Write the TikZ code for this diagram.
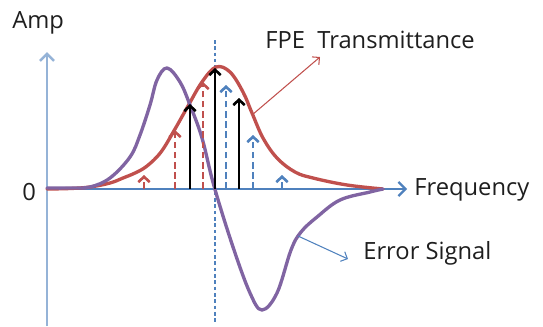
\documentclass[tikz,border=0pt]{standalone}
\usepackage{fontspec}
\setmainfont{Open Sans}
\usetikzlibrary{arrows.meta}
\definecolor{fpered}{HTML}{C0504D}
\definecolor{errpurple}{HTML}{8064A2}
\definecolor{axisblue}{HTML}{4F81BD}
\definecolor{axislight}{HTML}{95B3D7}
\definecolor{txtgray}{HTML}{1E1E1E}

\begin{document}
\begin{tikzpicture}[x=0.02cm, y=0.02cm,
  lbl/.style={font=\fontsize{13.5}{16}\selectfont, text=txtgray, inner sep=0pt},
  axisarr/.style={line width=1.3pt, -{Straight Barb[length=4pt,width=8pt]}},
  modearr/.style={line width=1.5pt, -{Straight Barb[length=3pt,width=6.5pt]}},
  dashmode/.style={modearr, dash pattern=on 3.8pt off 2pt},
  curve/.style={line width=1.9pt, line cap=round, line join=round}]
\useasboundingbox (0,0) rectangle (543,326);

% Axes
\coordinate (o) at (47,137);
\coordinate (ytip) at (47,274);
\coordinate (ybot) at (47,0);
\coordinate (xtip) at (407,137);
\draw[axisarr, axislight, line width=1.5pt] (ybot) -- (ytip);
\draw[axisarr, axisblue] (o) -- (xtip);

% Line centre
\coordinate (ctop) at (215,286);
\coordinate (cbot) at (215,3);
\draw[axisblue, line width=0.65pt, dash pattern=on 2pt off 1.6pt] (ctop) -- (cbot);

% Labels
\node[lbl, anchor=base west] (amp) at (12,298) {Amp};
\node[lbl, anchor=base west] (zero) at (22,126) {0};
\node[lbl, anchor=base west] (freq) at (414,131) {Frequency};
\node[lbl, anchor=base west] (fpe) at (265,278) {FPE\ \ Transmittance};
\node[lbl, anchor=base west] (err) at (363,67) {Error Signal};

% FPE transmittance
\draw[curve, fpered] plot[smooth, tension=0.6] coordinates {
  (47,137) (70,137.5) (90,139) (110,143) (123,148) (135,153) (147,160)
  (161,174) (175,197) (188,220) (202,244) (216,259) (230,254) (243,234)
  (252,213) (263,188) (277,168) (295,154) (313,148) (347,141) (383,137)};

% Error signal
\draw[curve, errpurple] plot[smooth, tension=0.6] coordinates {
  (47,138) (70,138) (90,139) (110,148) (130,169) (140,191) (150,221)
  (157,246) (167,258) (180,244) (190,221) (202,188) (214,140) (233,79)
  (250,33) (262,16) (277,33) (291,76) (301,94) (317,109) (340,126)
  (370,134) (383,137)};

% Modes
\draw[dashmode, fpered] (144,137) -- (144,151);
\draw[dashmode, fpered] (175,137) -- (175,196);
\draw[dashmode, fpered] (203,137) -- (203,244);
\draw[modearr, black] (190,137) -- (190,222);
\draw[modearr, black] (215,137) -- (215,258);
\draw[modearr, black] (239,137) -- (239,228);
\draw[dashmode, axisblue] (226,137) -- (226,241);
\draw[dashmode, axisblue] (253,137) -- (253,191);
\draw[dashmode, axisblue] (282,137) -- (282,151);

% Pointers to labels
\coordinate (fpept) at (252,211);
\coordinate (fpeend) at (320,269);
\draw[fpered, line width=0.6pt, -{Straight Barb[length=3pt,width=6pt]}] (fpept) -- (fpeend);
\coordinate (errpt) at (298,90);
\coordinate (errend) at (348,67);
\draw[axisblue, line width=0.6pt, -{Straight Barb[length=3pt,width=6pt]}] (errpt) -- (errend);

\end{tikzpicture}
\end{document}
